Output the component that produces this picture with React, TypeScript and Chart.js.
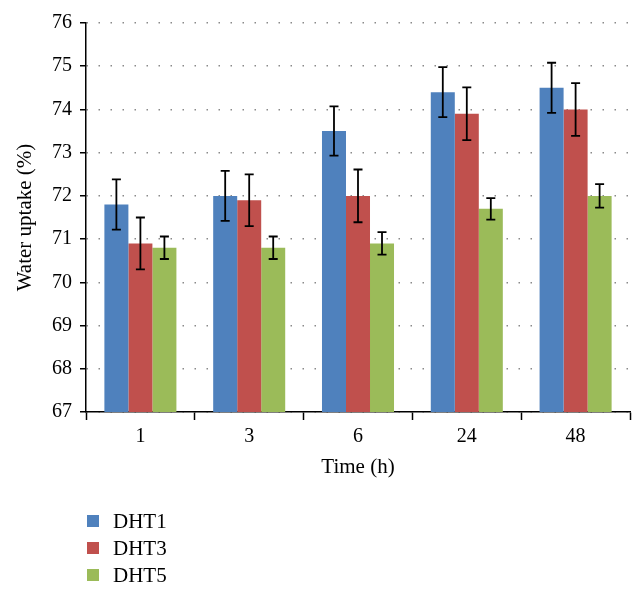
import React, { useEffect, useRef } from "react";
import { Chart, registerables } from "chart.js";

Chart.register(...registerables);

const categories = ["1", "3", "6", "24", "48"];
const seriesNames = ["DHT1", "DHT3", "DHT5"];
const dht1 = [71.8, 72.0, 73.5, 74.4, 74.5];
const dht3 = [70.9, 71.9, 72.0, 73.9, 74.0];
const dht5 = [70.8, 70.8, 70.9, 71.7, 72.0];
const err1 = [0.58, 0.58, 0.57, 0.58, 0.58];
const err3 = [0.6, 0.6, 0.61, 0.61, 0.61];
const err5 = [0.26, 0.26, 0.26, 0.25, 0.27];
const colors = ["#4F81BD", "#C0504D", "#9BBB59"];

const FONT = "'Liberation Serif', 'Times New Roman', serif";

const errorBarPlugin = {
  id: "errorBars",
  afterDatasetsDraw(chart: any) {
    const ctx = chart.ctx;
    const yScale = chart.scales.y;
    ctx.save();
    ctx.strokeStyle = "#000";
    ctx.lineWidth = 1.8;
    chart.data.datasets.forEach((ds: any, i: number) => {
      const meta = chart.getDatasetMeta(i);
      meta.data.forEach((bar: any, j: number) => {
        const v = ds.data[j];
        const e = ds.errors[j];
        const yT = yScale.getPixelForValue(v + e);
        const yB = yScale.getPixelForValue(v - e);
        const x = bar.x;
        const cap = 4.5;
        ctx.beginPath();
        ctx.moveTo(x, yT);
        ctx.lineTo(x, yB);
        ctx.moveTo(x - cap, yT);
        ctx.lineTo(x + cap, yT);
        ctx.moveTo(x - cap, yB);
        ctx.lineTo(x + cap, yB);
        ctx.stroke();
      });
    });
    ctx.restore();
  },
};

const legendPlugin = {
  id: "vertLegend",
  afterDraw(chart: any) {
    const ctx = chart.ctx;
    const area = chart.chartArea;
    ctx.save();
    ctx.font = `21px ${FONT}`;
    ctx.textBaseline = "middle";
    chart.data.datasets.forEach((ds: any, i: number) => {
      const cy = area.bottom + 109 + i * 27;
      ctx.fillStyle = ds.backgroundColor;
      ctx.fillRect(area.left + 1, cy - 6, 12, 12);
      ctx.fillStyle = "#000";
      ctx.fillText(ds.label, area.left + 27, cy + 1);
    });
    ctx.restore();
  },
};

export default function App() {
  const ref = useRef<HTMLCanvasElement | null>(null);
  useEffect(() => {
    if (!ref.current) return;
    const series = [dht1, dht3, dht5];
    const errs = [err1, err3, err5];
    const chart = new Chart(ref.current, {
      type: "bar",
      data: {
        labels: categories,
        datasets: series.map((d, i) => ({
          label: seriesNames[i],
          data: d,
          errors: errs[i],
          backgroundColor: colors[i],
          borderWidth: 0,
          barPercentage: 1,
          categoryPercentage: 0.662,
        })) as any,
      },
      options: {
        animation: false,
        responsive: true,
        maintainAspectRatio: false,
        layout: { padding: { top: 23, right: 14, bottom: 113, left: 0 } },
        plugins: {
          legend: { display: false },
          tooltip: { enabled: false },
        },
        scales: {
          x: {
            offset: true,
            grid: {
              display: true,
              drawOnChartArea: false,
              drawTicks: true,
              tickLength: 8,
              tickColor: "#000",
              tickWidth: 1.5,
              offset: true,
            },
            border: { display: true, color: "#000", width: 1.5 },
            ticks: { color: "#000", font: { family: FONT, size: 20 }, padding: 5 },
            title: {
              display: true,
              text: "Time (h)",
              color: "#000",
              font: { family: FONT, size: 21 },
              padding: { top: 4, bottom: 1.5 },
            },
            afterFit: (s: any) => {
              s.height = 70;
            },
          },
          y: {
            min: 67,
            max: 76,
            ticks: {
              stepSize: 1,
              color: "#000",
              font: { family: FONT, size: 20 },
              padding: 8,
            },
            grid: {
              color: "#8a8a8a",
              lineWidth: 1.5,
              drawTicks: true,
              tickLength: 6,
              tickColor: "#000",
              tickWidth: 1.5,
              tickBorderDash: [],
            },
            border: { display: true, color: "#000", width: 1.5, dash: [1.5, 10.5] },
            title: {
              display: true,
              text: "Water uptake (%)",
              color: "#000",
              font: { family: FONT, size: 21 },
              padding: { top: 12.5, bottom: 4 },
            },
            afterFit: (s: any) => {
              s.width = 86;
            },
          },
        },
      },
      plugins: [errorBarPlugin, legendPlugin],
    });
    return () => chart.destroy();
  }, []);
  return (
    <div
      style={{
        position: "fixed",
        left: 0,
        top: 0,
        width: 644,
        height: 595,
        background: "#fff",
      }}
    >
      <canvas ref={ref} />
    </div>
  );
}
